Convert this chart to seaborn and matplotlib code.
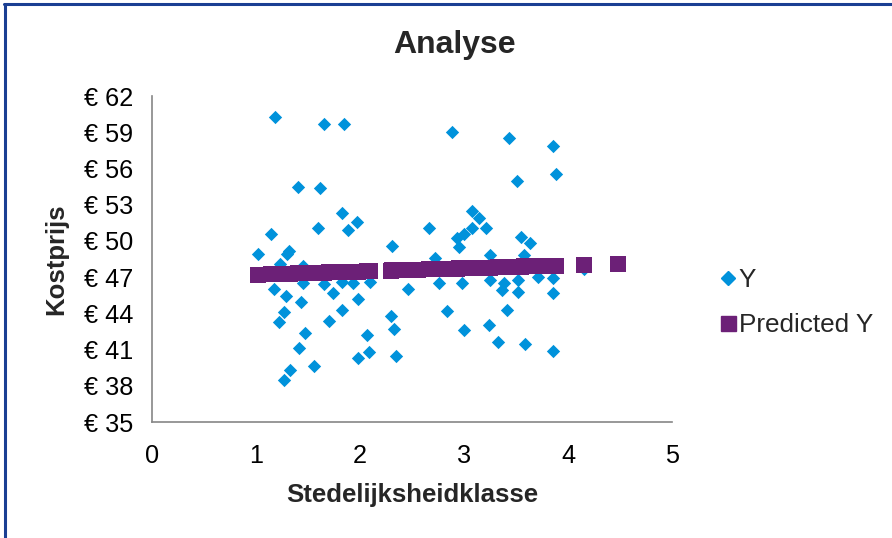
import matplotlib
matplotlib.use("Agg")
import matplotlib.pyplot as plt
from matplotlib.lines import Line2D
import seaborn as sns
import pandas as pd

# ---- data ----
klasse = [1.02, 1.14, 1.17, 1.18, 1.22, 1.23, 1.27, 1.27, 1.29, 1.30,
          1.32, 1.33, 1.40, 1.41, 1.43, 1.45, 1.45, 1.47, 1.56, 1.60,
          1.62, 1.65, 1.65, 1.70, 1.74, 1.83, 1.83, 1.83, 1.85, 1.88,
          1.93, 1.97, 1.98, 1.98, 2.07, 2.09, 2.10, 2.30, 2.31, 2.33,
          2.35, 2.46, 2.56, 2.66, 2.72, 2.76, 2.84, 2.88, 2.93, 2.95,
          2.98, 3.00, 3.00, 3.08, 3.08, 3.14, 3.21, 3.24, 3.25, 3.25,
          3.33, 3.37, 3.38, 3.41, 3.43, 3.51, 3.52, 3.52, 3.55, 3.58,
          3.59, 3.63, 3.71, 3.86, 3.86, 3.86, 3.86, 3.88, 4.15, 4.48]
kostprijs = [48.9, 50.6, 46.0, 60.3, 43.3, 48.1, 44.1, 38.5, 45.4, 48.9,
             49.2, 39.3, 54.5, 41.1, 44.9, 46.5, 47.9, 42.4, 39.6, 51.1,
             54.4, 59.7, 46.4, 43.4, 45.7, 52.3, 46.6, 44.3, 59.7, 50.9,
             46.5, 51.6, 45.2, 40.3, 42.2, 40.8, 46.6, 43.8, 49.6, 42.7,
             40.5, 46.0, 47.6, 51.1, 48.6, 46.5, 44.2, 59.0, 50.2, 49.5,
             46.5, 50.6, 42.6, 52.5, 51.1, 51.9, 51.1, 43.0, 48.8, 46.8,
             41.6, 45.9, 46.5, 44.3, 58.5, 55.0, 46.8, 45.8, 50.3, 48.8,
             41.5, 49.8, 47.0, 57.9, 46.9, 45.7, 40.9, 55.5, 47.7, 48.1]
predicted = [47.21, 47.24, 47.25, 47.25, 47.26, 47.26, 47.27, 47.27, 47.28, 47.28,
             47.29, 47.29, 47.31, 47.31, 47.32, 47.32, 47.32, 47.33, 47.35, 47.36,
             47.37, 47.37, 47.37, 47.39, 47.40, 47.42, 47.42, 47.42, 47.43, 47.43,
             47.45, 47.46, 47.46, 47.46, 47.48, 47.49, 47.49, 47.54, 47.55, 47.55,
             47.56, 47.59, 47.61, 47.64, 47.66, 47.67, 47.69, 47.70, 47.71, 47.72,
             47.72, 47.73, 47.73, 47.75, 47.75, 47.77, 47.78, 47.79, 47.79, 47.79,
             47.82, 47.83, 47.83, 47.84, 47.84, 47.86, 47.87, 47.87, 47.87, 47.88,
             47.88, 47.89, 47.92, 47.96, 47.96, 47.96, 47.96, 47.96, 48.03, 48.12]
y_ticks = [35, 38, 41, 44, 47, 50, 53, 56, 59, 62]
x_ticks = [0, 1, 2, 3, 4, 5]

title = "Analyse"
x_label = "Stedelijksheidklasse"
y_label = "Kostprijs"
series_names = ["Y", "Predicted Y"]

BLUE = "#0092DB"
PURPLE = "#6C2077"
AXIS_GRAY = "#868686"

df = pd.DataFrame({"x": klasse, "y": kostprijs, "pred": predicted})

sns.set_style("white")
plt.rcParams["font.family"] = ["Liberation Sans", "DejaVu Sans"]

fig = plt.figure(figsize=(8.92, 5.38), dpi=100)
ax = fig.add_axes([152 / 892, 1 - 422 / 538, 520 / 892, 326 / 538])

sns.scatterplot(data=df, x="x", y="y", ax=ax, marker="D", s=46,
                color=BLUE, linewidth=0, zorder=3)
sns.scatterplot(data=df, x="x", y="pred", ax=ax, marker="s", s=118,
                color=PURPLE, linewidth=0, zorder=4)

ax.set_xlim(0, 5)
ax.set_ylim(35, 62)
ax.set_xticks(x_ticks)
ax.set_xticklabels([str(t) for t in x_ticks])
ax.set_yticks(y_ticks)
ax.set_yticklabels([f"€ {t}" for t in y_ticks])
ax.tick_params(axis="both", labelsize=18.2, colors=AXIS_GRAY, labelcolor="black",
               direction="out", length=5.5, width=1.2, pad=8)
ax.tick_params(axis="x", pad=10)
for side in ("top", "right"):
    ax.spines[side].set_visible(False)
for side in ("left", "bottom"):
    ax.spines[side].set_color(AXIS_GRAY)
    ax.spines[side].set_linewidth(1.2)

ax.set_xlabel(x_label, fontsize=18.5, fontweight="bold", labelpad=11)
ax.set_ylabel(y_label, fontsize=18.5, fontweight="bold", labelpad=11)
fig.text(455 / 892, 1 - 45 / 538, title, ha="center", va="center",
         fontsize=23, fontweight="bold")

handles = [
    Line2D([], [], marker="D", linestyle="none", color=BLUE, markersize=7),
    Line2D([], [], marker="s", linestyle="none", color=PURPLE, markersize=10.8),
]
fig.legend(handles, series_names, loc="upper left",
           bbox_to_anchor=(720 / 892, 1 - 268 / 538), frameon=False,
           fontsize=18.8, handlelength=0.6, handletextpad=0.12,
           labelspacing=0.82, borderaxespad=0, borderpad=0)

# chart frame (top and left edges visible in the reference)
fig.add_artist(Line2D([0.005, 1.0], [1 - 4 / 538, 1 - 4 / 538],
                      transform=fig.transFigure, color="#1A3F93", linewidth=2.2))
fig.add_artist(Line2D([5 / 892, 5 / 892], [0, 1 - 4 / 538],
                      transform=fig.transFigure, color="#1A3F93", linewidth=2.2))

fig.savefig("out.png", dpi=100, facecolor="white")
